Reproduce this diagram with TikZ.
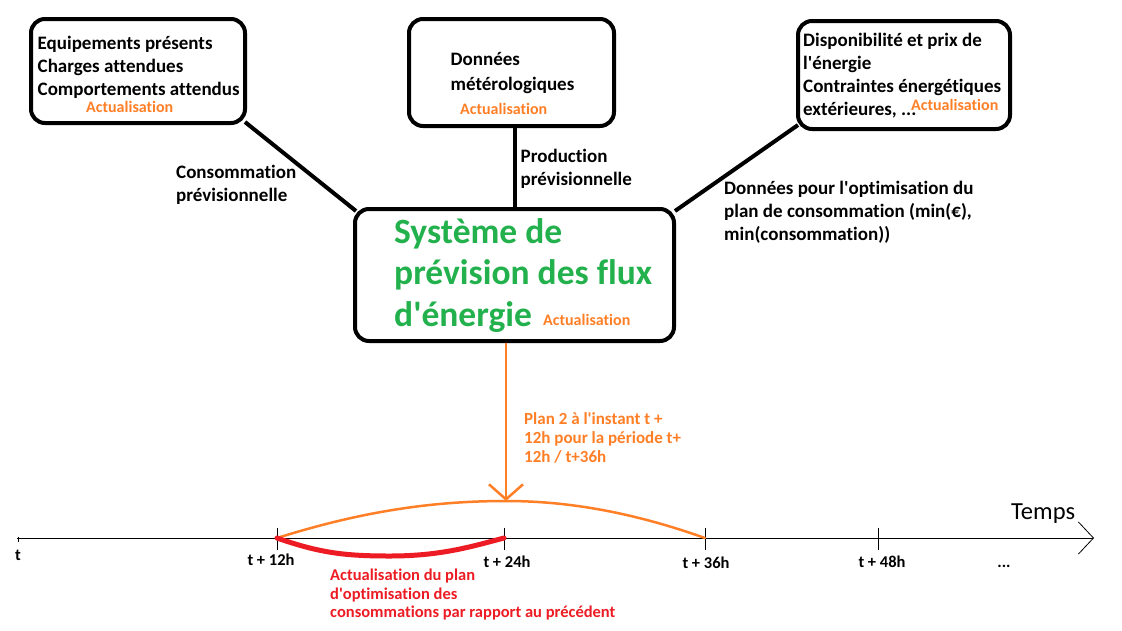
\documentclass[tikz,border=0pt]{standalone}
\usepackage{fontspec}
\setmainfont{Carlito}[Ligatures={NoCommon}]
\usetikzlibrary{arrows.meta}
\definecolor{paintorange}{HTML}{FF7F27}
\definecolor{paintgreen}{HTML}{22B14C}
\definecolor{paintred}{HTML}{ED1C24}
\newcommand{\ap}{\textquotesingle}
\begin{document}
\begin{tikzpicture}[x=1pt,y=-1pt,
  box/.style={draw=black,line width=4pt,rounded corners=14pt,inner sep=0pt},
  link/.style={draw=black,line width=4pt},
  txt/.style={font=\fontsize{19}{23}\selectfont\bfseries,align=left,inner sep=0pt,anchor=base west},
  act/.style={font=\fontsize{16}{19}\selectfont\bfseries,text=paintorange,inner sep=0pt,anchor=base west},
  big/.style={font=\fontsize{35.5}{41.7}\selectfont\bfseries,text=paintgreen,align=left,inner sep=0pt,anchor=base west},
  small/.style={font=\fontsize{17}{19}\selectfont\bfseries,align=left,inner sep=0pt,anchor=base west},
  ticklab/.style={font=\fontsize{16.5}{19}\selectfont\bfseries,inner sep=0pt,anchor=base},
  tickmark/.style={draw=black,line width=1pt}
]
\useasboundingbox (0,0) rectangle (1122,630);
\fill[white] (0,0) rectangle (1122,630);

% boxes
\node[box,minimum width=214pt,minimum height=104pt] (b1) at (138,71) {};
\node[box,minimum width=205pt,minimum height=107pt] (b2) at (511.5,72.5) {};
\node[box,minimum width=212pt,minimum height=108pt] (b3) at (904,75) {};
\node[box,minimum width=319pt,minimum height=132pt] (c) at (514.5,275) {};

% box texts (anchor = baseline of last line)
\node[txt] (t1) at (37.5,95) {Equipements présents\\Charges attendues\\Comportements attendus};
\node[act] (a1) at (86,112.5) {Actualisation};
\node[txt,font=\fontsize{19}{25}\selectfont\bfseries] (t2) at (450.5,90) {Données\\métérologiques};
\node[act] (a2) at (460,114.5) {Actualisation};
\node[txt] (t3) at (803,115) {Disponibilité et prix de\\l\ap énergie\\Contraintes énergétiques\\extérieures, ...};
\node[act] (a3) at (911,110) {Actualisation};
\node[big] (tc) at (394,326.5) {Système de\\prévision des flux\\d\ap énergie};
\node[act] (ac) at (543,325) {Actualisation};

% connectors
\draw[link] ([shift={(-2,-3)}]b1.south east) -- ([shift={(3,4)}]c.north west);
\draw[link] ([xshift=3.5pt]b2.south) -- ([xshift=3.5pt]b2.south |- c.north);
\draw[link] ([shift={(2,-6)}]b3.south west) -- ([shift={(-1,4)}]c.north east);

% connector labels
\node[txt] (l1) at (176,201.5) {Consommation\\prévisionnelle};
\node[txt] (l2) at (520.5,185.5) {Production\\prévisionnelle};
\node[txt] (l3) at (724,240) {Données pour l\ap optimisation du\\plan de consommation (min(€),\\min(consommation))};

% timeline
\coordinate (ax0) at (17,538);
\coordinate (ax1) at (1094,538);
\coordinate (k0) at (18,538);
\coordinate (k12) at (277,538);
\coordinate (k24) at (504,538);
\coordinate (k36) at (705,538);
\coordinate (k48) at (878,538);
\coordinate (peak) at (506,501);
\draw[line width=1pt,-{Straight Barb[length=15pt,width=32pt,line width=0.8pt]}] (ax0) -- (ax1);
\draw[tickmark] ([yshift=1.5pt]k0) -- ([yshift=-3.5pt]k0);
\foreach \k in {k12,k24,k36,k48}{
  \draw[tickmark] ([yshift=10.5pt]\k) -- ([yshift=-11.5pt]\k);
}
\node[font=\fontsize{24.5}{27}\selectfont,inner sep=0pt,anchor=base west] (temps) at (1011,519) {Temps};

\node[ticklab,anchor=base west] (lt0) at (15,560) {t};
\node[ticklab] (lt12) at (271,565.5) {t + 12h};
\node[ticklab] (lt24) at (507,567) {t + 24h};
\node[ticklab] (lt36) at (706,568) {t + 36h};
\node[ticklab] (lt48) at (882,567.5) {t + 48h};
\node[ticklab] (ldots) at (1004,567) {...};

% plan curves
\draw[paintorange,line width=2.5pt,line cap=round] (k12) .. controls (360,512) and (430,501) .. (peak) .. controls (575,501) and (640,515) .. (k36);
\draw[paintred,line width=5pt,line cap=round] (k12) .. controls (320,553) and (345,556) .. (390,556) .. controls (440,556) and (470,547) .. (k24);

% arrow from system
\draw[paintorange,line width=2.5pt,-{Straight Barb[length=15pt,width=34pt]}] ([xshift=-8.5pt]c.south) -- (peak);

\node[small,text=paintorange] (plan) at (524,462.5) {Plan 2 à l\ap instant t +\\12h pour la période t+\\12h / t+36h};
\node[small,font=\fontsize{16.5}{18.4}\selectfont\bfseries,text=paintred] (red) at (330,617.5) {Actualisation du plan\\d\ap optimisation des\\consommations par rapport au précédent};
\end{tikzpicture}
\end{document}
